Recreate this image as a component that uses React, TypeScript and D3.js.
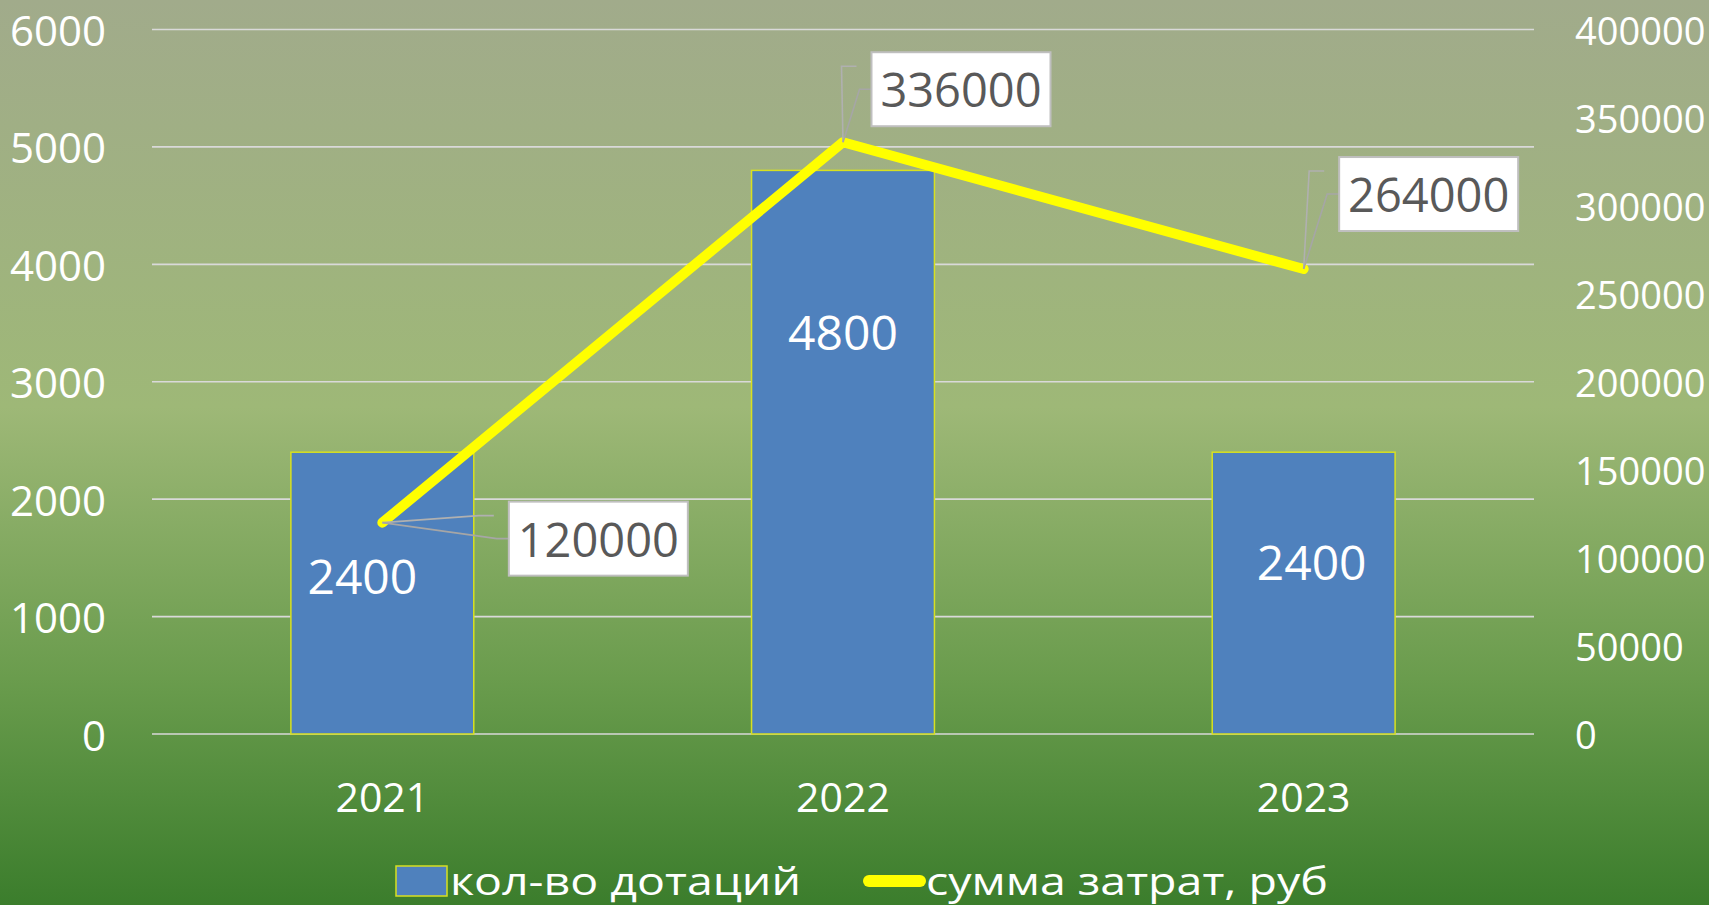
import React from "react";
import * as d3 from "d3";

const categories = ["2021", "2022", "2023"];
const subsidyCounts = [2400, 4800, 2400];
const costSums = [120000, 336000, 264000];
const leftTicks = [0, 1000, 2000, 3000, 4000, 5000, 6000];
const rightTicks = [0, 50000, 100000, 150000, 200000, 250000, 300000, 350000, 400000];
const seriesNames = ["кол-во дотаций", "сумма затрат, руб"];

// label layout (manual placement as in the reference)
const barLabelDx = [-20, 0, 8];
const barLabelAt = [1354, 3424, 1465];
const calloutDx = [216, 118, 125];
const calloutDy = [16, -53, -75];

const W = 1709;
const H = 905;
const FONT = "'Open Sans', 'DejaVu Sans', sans-serif";

export default function App() {
  const x = d3
    .scaleBand<string>()
    .domain(categories)
    .range([152, 1534])
    .paddingInner(0.603)
    .paddingOuter(0.3015);
  const yL = d3.scaleLinear().domain([0, 6000]).range([734, 29.5]);
  const yR = d3.scaleLinear().domain([0, 400000]).range([734, 29.5]);
  const cx = (c: string) => (x(c) as number) + x.bandwidth() / 2;

  const pts: [number, number][] = categories.map((c, i) => [cx(c), yR(costSums[i])]);
  const line = d3.line();

  const boxW = 179;
  const boxH = 74;

  return (
    <svg
      width={W}
      height={H}
      style={{ position: "absolute", left: 0, top: 0, display: "block" }}
      fontFamily={FONT}
    >
      <defs>
        <linearGradient id="bg" x1="0" y1="0" x2="0" y2="1">
          <stop offset="0" stopColor="#a1ab8b" />
          <stop offset="0.45" stopColor="#9eb877" />
          <stop offset="0.75" stopColor="#6a9c4d" />
          <stop offset="1" stopColor="#3b7d2c" />
        </linearGradient>
      </defs>
      <rect x={0} y={0} width={W} height={H} fill="url(#bg)" />

      {/* gridlines */}
      {leftTicks.map((t) => (
        <line
          key={"g" + t}
          x1={152}
          x2={1534}
          y1={yL(t)}
          y2={yL(t)}
          stroke="#d9d9d9"
          strokeWidth={1.6}
        />
      ))}

      {/* left axis labels */}
      {leftTicks.map((t) => (
        <text
          key={"l" + t}
          x={106}
          y={yL(t)}
          textAnchor="end"
          dominantBaseline="central"
          fill="#ffffff"
          fontSize={42}
        >
          {t}
        </text>
      ))}

      {/* right axis labels */}
      {rightTicks.map((t) => (
        <text
          key={"r" + t}
          x={1575}
          y={yR(t)}
          textAnchor="start"
          dominantBaseline="central"
          fill="#ffffff"
          fontSize={38}
        >
          {t}
        </text>
      ))}

      {/* bars */}
      {categories.map((c, i) => (
        <rect
          key={"b" + c}
          x={x(c)}
          y={yL(subsidyCounts[i])}
          width={x.bandwidth()}
          height={yL(0) - yL(subsidyCounts[i])}
          fill="#4f81bd"
          stroke="#d8e020"
          strokeWidth={1.5}
        />
      ))}

      {/* category labels */}
      {categories.map((c) => (
        <text
          key={"c" + c}
          x={cx(c)}
          y={812}
          textAnchor="middle"
          fill="#ffffff"
          fontSize={41}
        >
          {c}
        </text>
      ))}

      {/* bar value labels */}
      {categories.map((c, i) => (
        <text
          key={"bl" + c}
          x={cx(c) + barLabelDx[i]}
          y={yL(barLabelAt[i])}
          textAnchor="middle"
          dominantBaseline="central"
          fill="#ffffff"
          fontSize={48}
        >
          {subsidyCounts[i]}
        </text>
      ))}

      {/* cost line */}
      <path
        d={line(pts) || ""}
        fill="none"
        stroke="#ffff00"
        strokeWidth={10}
        strokeLinecap="round"
        strokeLinejoin="round"
      />

      {/* callouts */}
      {categories.map((c, i) => {
        const [px, py] = pts[i];
        const bcx = px + calloutDx[i];
        const bcy = py + calloutDy[i];
        const bl = bcx - boxW / 2;
        const bt = bcy - boxH / 2;
        const ghost = `M${px},${py}L${bl - 30},${bcy - 23}L${bl - 15},${bcy - 23}`;
        const leader = `M${px},${py}L${bl - 12},${bcy}L${bl},${bcy}`;
        return (
          <g key={"co" + c}>
            <path d={ghost} fill="none" stroke="#b0b0b0" strokeWidth={1.6} />
            <path d={leader} fill="none" stroke="#a6a6a6" strokeWidth={1.6} />
            <rect
              x={bl}
              y={bt}
              width={boxW}
              height={boxH}
              fill="#ffffff"
              stroke="#bfbfbf"
              strokeWidth={2}
            />
            <text
              x={bcx}
              y={bcy}
              textAnchor="middle"
              dominantBaseline="central"
              fill="#595959"
              fontSize={47}
            >
              {costSums[i]}
            </text>
          </g>
        );
      })}

      {/* legend */}
      <rect x={396} y={866} width={51} height={30} fill="#4f81bd" stroke="#d8e020" strokeWidth={1.5} />
      <text
        x={450}
        y={895}
        fill="#ffffff"
        fontSize={38}
        textLength={351}
        lengthAdjust="spacingAndGlyphs"
      >
        {seriesNames[0]}
      </text>
      <line x1={869} x2={920} y1={881} y2={881} stroke="#ffff00" strokeWidth={12} strokeLinecap="round" />
      <text
        x={926}
        y={895}
        fill="#ffffff"
        fontSize={38}
        textLength={402}
        lengthAdjust="spacingAndGlyphs"
      >
        {seriesNames[1]}
      </text>
    </svg>
  );
}
